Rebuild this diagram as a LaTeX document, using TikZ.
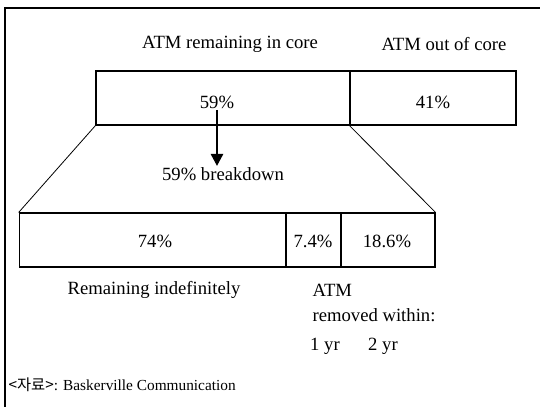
\documentclass[tikz,border=0pt]{standalone}
\usepackage{fontspec}
\setmainfont{Liberation Serif}
\newfontfamily\cjk{Noto Sans CJK KR}
\usetikzlibrary{arrows.meta}
\begin{document}
\begin{tikzpicture}[x=0.75pt,y=-0.75pt,font=\fontsize{14}{16}\selectfont]
    \tikzstyle{bar}=[draw, line width=0.8pt, rectangle, inner sep=0pt, minimum height=40.5pt]
    \tikzstyle{lbl}=[inner sep=1pt]
    \useasboundingbox (0,0) rectangle (540,407);
    \draw[line width=0.8pt] (540,8) -- (5,8) -- (5,407);
    % headings
    \node[lbl] (hin) at (230,44) {ATM remaining in core};
    \node[lbl] (hout) at (444,44) {ATM out of core};
    % upper bar
    \node[bar, minimum width=190.5pt] (incore) at (223,98) {};
    \node[bar, minimum width=124.5pt] (outcore) at (433,98) {};
    \node[lbl] (p59) at (217,102) {59\%};
    \node[lbl] (p41) at (433,102) {41\%};
    % breakdown
    \node[lbl] (bd) at (223,174) {59\% breakdown};
    \draw[line width=0.8pt, -{Triangle[width=9.5pt,length=9pt]}] (p59.south) -- (p59.south |- bd.north);
    % lower bar
    \node[bar, minimum width=200pt] (indef) at (152.5,240) {};
    \node[bar, minimum width=41.25pt] (yr1) at (313.5,240) {};
    \node[bar, minimum width=70.5pt] (yr2) at (388,240) {};
    \node[lbl] (p74) at (155,241) {74\%};
    \node[lbl] (p74b) at (313,241) {7.4\%};
    \node[lbl] (p186) at (387,241) {18.6\%};
    \draw[line width=0.6pt] (incore.south west) -- (indef.north west);
    \draw[line width=0.6pt] (outcore.south west) -- (yr2.north east);
    % captions
    \node[lbl] (cindef) at (154,290) {Remaining indefinitely};
    \node[lbl, anchor=west] (catm) at (311,290) {ATM};
    \node[lbl, anchor=west] (crem) at (311,315) {removed within:};
    \node[lbl] (c1) at (325,346) {1 yr};
    \node[lbl] (c2) at (383,346) {2 yr};
    \node[lbl, anchor=west, font=\fontsize{11.5}{13}\selectfont] (src) at (7,385) {{\cjk <자료>}: Baskerville Communication};
  \end{tikzpicture}
\end{document}
